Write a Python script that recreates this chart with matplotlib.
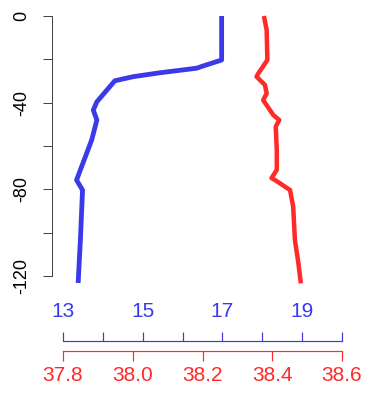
import matplotlib
matplotlib.use("Agg")
import matplotlib.pyplot as plt

plt.rcParams["font.family"] = ["Liberation Sans", "DejaVu Sans"]
plt.rcParams["axes.unicode_minus"] = False

# Temperature profile (degC) against depth (m)
temp_depth = [0, -20.3, -23.1, -24.1, -26.2, -28.0, -29.9, -34.2, -39.6, -43.4,
              -48.0, -57.2, -75.7, -80.3, -101.9, -123.2]
temperature = [16.98, 16.98, 16.51, 16.35, 15.43, 14.76, 14.30, 14.10, 13.85, 13.76,
               13.85, 13.72, 13.34, 13.49, 13.44, 13.38]

# Salinity profile (psu) against depth (m)
sal_depth = [0, -6.5, -20.3, -26.5, -28.0, -31.8, -35.7, -38.8, -45.7, -48.0, -51.1,
             -61.8, -71.0, -74.8, -75.7, -80.3, -88.0, -103.4, -114.1, -123.4]
salinity = [38.376, 38.384, 38.386, 38.360, 38.355, 38.379, 38.384, 38.374, 38.403,
            38.420, 38.410, 38.413, 38.413, 38.398, 38.408, 38.451, 38.460, 38.465,
            38.475, 38.482]

depth_ticks = [0, -20, -40, -60, -80, -100, -120]
depth_labels = ["0", "", "-40", "", "-80", "", "-120"]
temp_ticks = [13, 14, 15, 16, 17, 18, 19, 20]
temp_labels = ["13", "", "15", "", "17", "", "19", ""]
sal_ticks = [37.8, 38.0, 38.2, 38.4, 38.6]
sal_labels = ["37.8", "38.0", "38.2", "38.4", "38.6"]

BLUE = "#3a3ae8"
RED = "#ff2a2a"

W, H = 371, 398
fig = plt.figure(figsize=(W / 100, H / 100), dpi=100)
fig.patch.set_facecolor("white")

px = 72 / 100  # points per pixel
ax = fig.add_axes([63 / W, 1 - 290 / H, 279 / W, 280 / H])
ax.set_xlim(13, 20)
ax.set_ylim(-126.44, 2.77)
ax.patch.set_alpha(0)

ax.plot(temperature, temp_depth, color=BLUE, lw=4.8 * px,
        solid_joinstyle="round", solid_capstyle="butt", clip_on=False)

# salinity axis (created first: twiny resets the host's tick side)
ax2 = ax.twiny()
ax2.set_xlim(37.8, 38.6)
ax2.set_ylim(ax.get_ylim())
ax2.plot(salinity, sal_depth, color=RED, lw=4.5 * px,
         solid_joinstyle="round", solid_capstyle="butt", clip_on=False)
for s in ("top", "left", "right"):
    ax2.spines[s].set_visible(False)
ax2.xaxis.set_ticks_position("bottom")
ax2.spines["bottom"].set_position(("outward", 61 * px))
ax2.spines["bottom"].set_bounds(37.8, 38.6)
ax2.spines["bottom"].set_color(RED)
ax2.spines["bottom"].set_linewidth(1.2 * px)
ax2.set_xticks(sal_ticks)
ax2.set_xticklabels(sal_labels)
ax2.tick_params(axis="x", length=10 * px, width=1.2 * px, color=RED,
                labelcolor=RED, labelsize=15, pad=5 * px)

# depth axis
ax.spines["left"].set_position(("outward", 11 * px))
ax.spines["left"].set_bounds(-120, 0)
ax.spines["left"].set_color("#444444")
ax.spines["left"].set_linewidth(1.0 * px)
ax.spines["right"].set_visible(False)
ax.spines["bottom"].set_visible(False)
ax.set_yticks(depth_ticks)
ax.set_yticklabels(depth_labels)
ax.tick_params(axis="y", length=9 * px, width=1.0 * px, color="#444444",
               labelsize=13, pad=13 * px, labelrotation=90)
for t in ax.get_yticklabels():
    t.set_va("center")

# temperature axis drawn below the profile, ticks pointing up
ax.xaxis.set_ticks_position("top")
ax.xaxis.set_label_position("top")
ax.spines["top"].set_position(("axes", (290 - 341) / 280))
ax.spines["top"].set_bounds(13, 20)
ax.spines["top"].set_color(BLUE)
ax.spines["top"].set_linewidth(1.2 * px)
ax.set_xticks(temp_ticks)
ax.set_xticklabels(temp_labels)
ax.tick_params(axis="x", which="both", bottom=False, labelbottom=False,
               top=True, labeltop=True, length=9 * px, width=1.2 * px,
               color=BLUE, labelcolor=BLUE, labelsize=15, pad=11 * px)

fig.savefig("out.png", dpi=100, facecolor="white")
